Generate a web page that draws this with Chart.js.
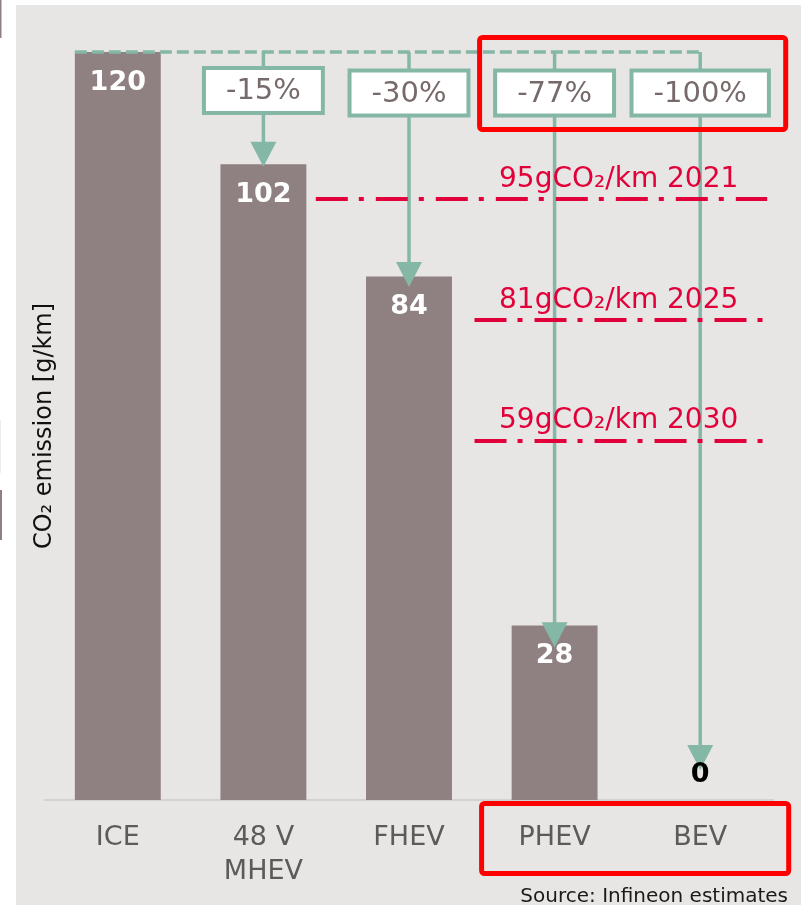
<!DOCTYPE html>
<html><head><meta charset="utf-8">
<script src="https://cdn.jsdelivr.net/npm/chart.js@4.4.1/dist/chart.umd.min.js"></script>
<style>html,body{margin:0;padding:0;background:#e7e6e4;width:801px;height:905px;overflow:hidden;}canvas{display:block;}</style>
</head><body>
<canvas id="c" width="801" height="905" style="width:801px;height:905px"></canvas>
<script>
// ---- data ----
const categories = [['ICE'], ['48 V', 'MHEV'], ['FHEV'], ['PHEV'], ['BEV']];
const emissions = [120, 102, 84, 28, 0];
const reductionLabels = ['-15%', '-30%', '-77%', '-100%'];
const arrowTipValues = [101.6, 82.3, 24.5, 4.8];
const targetLabels = ['95gCO₂/km 2021', '81gCO₂/km 2025', '59gCO₂/km 2030'];
const targetLineValues = [96.4, 77.0, 57.6];
const axisTitle = 'CO₂ emission [g/km]';
const sourceNote = 'Source: Infineon estimates';

const FONT = '"DejaVu Sans", Verdana, sans-serif';
const TEAL = '#85b7a6';
const RED_TXT = '#e2003a';

const overlay = {
  id: 'overlay',
  beforeDraw(chart) {
    const ctx = chart.ctx;
    ctx.save();
    ctx.fillStyle = '#ffffff';
    ctx.fillRect(0, 0, chart.width, chart.height);
    ctx.fillStyle = '#e7e6e4';
    ctx.fillRect(16, 5, chart.width - 16, chart.height - 5);
    ctx.fillStyle = '#8f8081';
    ctx.fillRect(0, 0, 1.5, 38);
    ctx.fillRect(0, 490, 2, 50);
    ctx.fillStyle = '#eeeded';
    ctx.fillRect(0, 420, 1, 53);
    ctx.restore();
  },
  afterDatasetsDraw(chart) {
    const ctx = chart.ctx;
    const xs = chart.scales.x, ys = chart.scales.y;
    const meta = chart.getDatasetMeta(0);
    const topY = ys.getPixelForValue(emissions[0]);
    const first = meta.data[0];
    const last = meta.data[emissions.length - 1];
    ctx.save();
    // dashed reference line at the ICE level
    ctx.strokeStyle = TEAL;
    ctx.lineWidth = 3.5;
    ctx.setLineDash([12, 5]);
    ctx.beginPath();
    ctx.moveTo(first.x - first.width / 2, topY);
    ctx.lineTo(last.x + 3, topY);
    ctx.stroke();
    ctx.setLineDash([]);

    // arrows
    const arrowX = reductionLabels.map((_, i) => meta.data[i + 1].x);
    reductionLabels.forEach((lab, i) => {
      const ax = arrowX[i];
      const tip = ys.getPixelForValue(arrowTipValues[i]);
      ctx.strokeStyle = TEAL;
      ctx.lineWidth = 3.5;
      ctx.beginPath();
      ctx.moveTo(ax, topY);
      ctx.lineTo(ax, tip - 23);
      ctx.stroke();
      ctx.fillStyle = TEAL;
      ctx.beginPath();
      ctx.moveTo(ax - 13, tip - 25);
      ctx.lineTo(ax + 13, tip - 25);
      ctx.lineTo(ax, tip);
      ctx.closePath();
      ctx.fill();
    });

    // percentage boxes
    ctx.font = '29px ' + FONT;
    ctx.textAlign = 'center';
    ctx.textBaseline = 'middle';
    reductionLabels.forEach((lab, i) => {
      const ax = arrowX[i];
      const w = ctx.measureText(lab).width + 44;
      const cy = i === 0 ? 90.5 : 93;
      const h = 45;
      ctx.fillStyle = '#ffffff';
      ctx.fillRect(ax - w / 2, cy - h / 2, w, h);
      ctx.strokeStyle = TEAL;
      ctx.lineWidth = 4;
      ctx.strokeRect(ax - w / 2, cy - h / 2, w, h);
      ctx.fillStyle = '#776a6b';
      ctx.fillText(lab, ax, cy + 1);
    });

    // CO2 target lines (dash-dot)
    const starts = [1.36, 2.45, 2.45];
    const ends = [4.46, 4.43, 4.43];
    ctx.strokeStyle = RED_TXT;
    ctx.lineWidth = 4;
    ctx.lineCap = 'butt';
    targetLineValues.forEach((v, i) => {
      const y = ys.getPixelForValue(v);
      ctx.setLineDash([32, 11, 5, 12]);
      ctx.beginPath();
      ctx.moveTo(xs.getPixelForValue(starts[i]), y);
      ctx.lineTo(xs.getPixelForValue(ends[i]), y);
      ctx.stroke();
    });
    ctx.setLineDash([]);
    ctx.font = '28px ' + FONT;
    ctx.fillStyle = RED_TXT;
    ctx.textAlign = 'center';
    ctx.textBaseline = 'alphabetic';
    targetLabels.forEach((t, i) => {
      const y = ys.getPixelForValue(targetLineValues[i]);
      ctx.fillText(t, xs.getPixelForValue(3.44), y - 12.5);
    });

    // value labels
    ctx.font = 'bold 27px ' + FONT;
    ctx.textBaseline = 'middle';
    emissions.forEach((v, i) => {
      const bar = meta.data[i];
      if (v > 0) {
        ctx.fillStyle = '#ffffff';
        ctx.fillText(String(v), bar.x, bar.y + 31);
      } else {
        ctx.fillStyle = '#000000';
        ctx.fillText(String(v), bar.x, ys.getPixelForValue(0) - 25);
      }
    });

    // red highlight boxes
    ctx.strokeStyle = '#ff0000';
    ctx.lineWidth = 5;
    const p3 = xs.getPixelForValue(3), p4 = xs.getPixelForValue(4);
    const base = ys.getPixelForValue(0);
    ctx.beginPath();
    ctx.roundRect(p3 - 75, 37.5, (p4 + 85.5) - (p3 - 75), 92, 3);
    ctx.stroke();
    ctx.beginPath();
    ctx.roundRect(p3 - 73, base + 3.5, (p4 + 88.5) - (p3 - 73), 70, 3);
    ctx.stroke();
    ctx.restore();
  },
  afterDraw(chart) {
    const ctx = chart.ctx;
    ctx.save();
    ctx.font = '20px ' + FONT;
    ctx.fillStyle = '#1a1a1a';
    ctx.textAlign = 'right';
    ctx.textBaseline = 'alphabetic';
    ctx.fillText(sourceNote, 788, chart.height - 3);
    ctx.restore();
  }
};

new Chart(document.getElementById('c'), {
  type: 'bar',
  data: {
    labels: categories,
    datasets: [{
      data: emissions,
      backgroundColor: '#8f8081',
      borderWidth: 0,
      categoryPercentage: 1,
      barPercentage: 0.59
    }]
  },
  options: {
    responsive: false,
    animation: false,
    events: [],
    layout: { padding: { top: 52, right: 28, bottom: 0, left: 16 } },
    plugins: { legend: { display: false }, tooltip: { enabled: false } },
    scales: {
      x: {
        grid: { display: false, drawTicks: false },
        border: { display: true, color: '#d4d1d1', width: 2 },
        ticks: { font: { family: FONT, size: 27, lineHeight: 1.25 }, color: '#5b5b5b', padding: 21, maxRotation: 0, autoSkip: false },
        afterFit(s) { s.height = 105; }
      },
      y: {
        min: 0, max: 120,
        grid: { display: false, drawTicks: false },
        border: { display: false },
        ticks: { display: false },
        title: { display: true, text: axisTitle, color: '#111111', font: { family: FONT, size: 24 }, padding: { top: 14, bottom: 0 } },
        afterFit(s) { s.width = 29; }
      }
    }
  },
  plugins: [overlay]
});
</script>
</body></html>
